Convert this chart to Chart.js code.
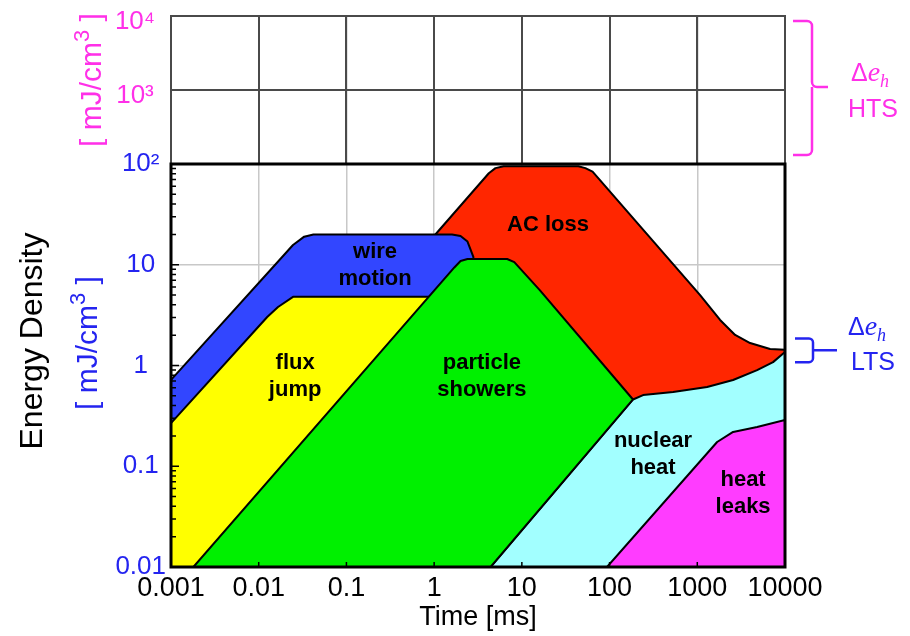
<!DOCTYPE html>
<html>
<head>
<meta charset="utf-8">
<title>Energy Density vs Time</title>
<script src="https://cdn.jsdelivr.net/npm/chart.js@4.4.0/dist/chart.umd.min.js"></script>
<style>
  html, body { margin: 0; padding: 0; background: #fff; }
  #energyChart { display: block; }
</style>
</head>
<body>
<canvas id="energyChart" width="910" height="636"></canvas>
<script>
// Axis ticks
const timeTicks = [0.001, 0.01, 0.1, 1, 10, 100, 1000, 10000];
const timeLabels = ['0.001', '0.01', '0.1', '1', '10', '100', '1000', '10000'];
const ltsTicks = [0.01, 0.1, 1, 10, 100];
const ltsLabels = ['0.01', '0.1', '1', '10', '10²'];
const htsTicks = [1000, 10000];
const htsLabels = ['10³', '10⁴'];

// Outline of each disturbance region: time [ms] / energy density [mJ/cm3]
const acLossT = [0.9, 4.2, 5.0, 6.2, 44, 53, 64, 1077, 1820, 2700, 4000, 6760, 10000, 10000, 185, 3, 0.9];
const acLossE = [17.4, 81, 91, 95, 95, 91, 84, 5.0, 2.83, 2.01, 1.67, 1.46, 1.43, 0.3, 0.3, 3, 17.4];

const wireMotionT = [0.001, 0.001, 0.0246, 0.033, 0.042, 1.6, 2.0, 2.4, 2.8, 2.8, 0.001];
const wireMotionE = [0.01, 0.72, 15.7, 19, 20, 20, 19.3, 17, 12, 0.01, 0.01];

const fluxJumpT = [0.001, 0.001, 0.0125, 0.0166, 0.0246, 1.2, 1.2, 0.001];
const fluxJumpE = [0.01, 0.268, 3.03, 3.81, 4.8, 4.8, 0.01, 0.01];

const nuclearHeatT = [4.4, 185, 241, 530, 1294, 2560, 4810, 7310, 10000, 10000, 4.4];
const nuclearHeatE = [0.01, 0.46, 0.509, 0.546, 0.612, 0.718, 0.90, 1.08, 1.36, 0.01, 0.01];

const showerT = [0.0018, 1.7, 2.0, 2.4, 6.8, 8.2, 16, 185, 4.4, 0.0018];
const showerE = [0.01, 9.4, 10.9, 11.4, 11.4, 10.6, 5.6, 0.46, 0.01, 0.01];

const heatLeakT = [93.5, 1683, 2560, 4810, 10000, 10000, 93.5];
const heatLeakE = [0.01, 0.174, 0.219, 0.245, 0.288, 0.01, 0.01];

// LTS margin range shown by the small bracket
const ltsMargin = [1.08, 1.85];

const PINK = '#ff30e8';
const BLUE = '#2424f0';
const FONT = '"Liberation Sans", Arial, Helvetica, sans-serif';

// back to front
const regions = [
  { name: 'AC loss', t: acLossT, e: acLossE, color: '#ff2600' },
  { name: 'wire motion', t: wireMotionT, e: wireMotionE, color: '#3246ff' },
  { name: 'flux jump', t: fluxJumpT, e: fluxJumpE, color: '#ffff00' },
  { name: 'nuclear heat', t: nuclearHeatT, e: nuclearHeatE, color: '#a2ffff' },
  { name: 'particle showers', t: showerT, e: showerE, color: '#00f000' },
  { name: 'heat leaks', t: heatLeakT, e: heatLeakE, color: '#ff3cff' }
];

// where the region names sit, in data units
const regionLabels = [
  { lines: ['wire', 'motion'], t: 0.212, e: 9.8 },
  { lines: ['flux', 'jump'], t: 0.026, e: 0.77 },
  { lines: ['particle', 'showers'], t: 3.5, e: 0.77 },
  { lines: ['AC loss'], t: 19.9, e: 24.8 },
  { lines: ['nuclear', 'heat'], t: 313, e: 0.132 },
  { lines: ['heat', 'leaks'], t: 3327, e: 0.054 }
];

function drawDeltaE(ctx, cx, cy, color) {
  const parts = [
    { s: 'Δ', font: '25px ' + FONT, dy: 0 },
    { s: 'e', font: 'italic 28px "Liberation Serif", "Times New Roman", serif', dy: 0 },
    { s: 'h', font: 'italic 18px "Liberation Serif", "Times New Roman", serif', dy: 6 }
  ];
  let w = 0;
  parts.forEach(p => { ctx.font = p.font; p.w = ctx.measureText(p.s).width; w += p.w; });
  let px = cx - w / 2;
  ctx.fillStyle = color;
  ctx.textAlign = 'left';
  ctx.textBaseline = 'alphabetic';
  parts.forEach(p => { ctx.font = p.font; ctx.fillText(p.s, px, cy + 9 + p.dy); px += p.w; });
}

// "[ mJ/cm3 ]" written sideways, with a raised 3
function unitTitle(ctx, cx, cy, size, color) {
  const big = size + 'px ' + FONT;
  const small = Math.round(size * 0.72) + 'px ' + FONT;
  const parts = [
    { s: '[ mJ/cm', font: big, dy: 0 },
    { s: '3', font: small, dy: -size * 0.38 },
    { s: ' ]', font: big, dy: 0 }
  ];
  ctx.save();
  ctx.translate(cx, cy);
  ctx.rotate(-Math.PI / 2);
  let w = 0;
  parts.forEach(p => { ctx.font = p.font; p.w = ctx.measureText(p.s).width; w += p.w; });
  let px = -w / 2;
  ctx.fillStyle = color;
  ctx.textAlign = 'left';
  ctx.textBaseline = 'alphabetic';
  parts.forEach(p => { ctx.font = p.font; ctx.fillText(p.s, px, size * 0.36 + p.dy); px += p.w; });
  ctx.restore();
}

function rotatedText(ctx, text, cx, cy, font, color) {
  ctx.save();
  ctx.translate(cx, cy);
  ctx.rotate(-Math.PI / 2);
  ctx.font = font;
  ctx.fillStyle = color;
  ctx.textAlign = 'center';
  ctx.textBaseline = 'middle';
  ctx.fillText(text, 0, 0);
  ctx.restore();
}

const panelDecor = {
  id: 'panelDecor',
  afterDatasetsDraw(chart) {
    const { ctx, scales: { x, y, y2 } } = chart;
    ctx.save();

    // upper panel grid, darker than the lower one
    ctx.strokeStyle = '#4a4a4a';
    ctx.lineWidth = 2;
    ctx.beginPath();
    timeTicks.forEach(v => {
      const px = Math.round(x.getPixelForValue(v));
      ctx.moveTo(px, y2.top);
      ctx.lineTo(px, y2.bottom);
    });
    htsTicks.forEach(v => {
      const py = Math.round(y2.getPixelForValue(v));
      ctx.moveTo(x.left, py);
      ctx.lineTo(x.right, py);
    });
    ctx.stroke();
    ctx.strokeRect(x.left, y2.top, x.right - x.left, y2.bottom - y2.top);

    // inner tick marks of the lower panel
    ctx.strokeStyle = '#000';
    ctx.lineWidth = 1.5;
    ctx.beginPath();
    for (let k = -2; k <= 1; k++) {
      for (let m = 1; m <= 9; m++) {
        const py = y.getPixelForValue(m * Math.pow(10, k));
        ctx.moveTo(x.left, py);
        ctx.lineTo(x.left + (m === 1 ? 8 : 5), py);
      }
    }
    timeTicks.forEach(v => {
      const px = x.getPixelForValue(v);
      ctx.moveTo(px, y.bottom);
      ctx.lineTo(px, y.bottom - 5);
    });
    ctx.stroke();

    // lower panel frame
    ctx.lineWidth = 3;
    ctx.strokeRect(x.left, y.top, x.right - x.left, y.bottom - y.top);

    // region names
    ctx.fillStyle = '#000';
    ctx.font = 'bold 22px ' + FONT;
    ctx.textAlign = 'center';
    ctx.textBaseline = 'middle';
    regionLabels.forEach(l => {
      const px = x.getPixelForValue(l.t);
      const py = y.getPixelForValue(l.e);
      const step = 27;
      const y0 = py - (l.lines.length - 1) * step / 2;
      l.lines.forEach((s, i) => ctx.fillText(s, px, y0 + i * step));
    });

    // axis titles
    rotatedText(ctx, 'Energy Density', 33, 341, '32px ' + FONT, '#000');
    unitTitle(ctx, 86, 343, 30, BLUE);
    unitTitle(ctx, 90, (y2.top + y2.bottom) / 2 - 10, 30, PINK);

    // HTS bracket
    const bx = x.right + 27;
    const top = y2.top + 5, bottom = y2.bottom - 9;
    const mid = y2.getPixelForValue(1000) - 3;
    ctx.strokeStyle = PINK;
    ctx.lineWidth = 2.5;
    ctx.beginPath();
    ctx.moveTo(x.right + 8, top);
    ctx.arcTo(bx, top, bx, mid, 5);
    ctx.arcTo(bx, mid, bx + 16, mid, 5);
    ctx.lineTo(bx + 16, mid);
    ctx.moveTo(bx, mid);
    ctx.arcTo(bx, bottom, x.right + 8, bottom, 5);
    ctx.lineTo(x.right + 8, bottom);
    ctx.stroke();
    drawDeltaE(ctx, 870, 72, PINK);
    ctx.font = '25px ' + FONT;
    ctx.fillStyle = PINK;
    ctx.textAlign = 'center';
    ctx.textBaseline = 'middle';
    ctx.fillText('HTS', 873, 110);

    // LTS bracket
    const lt = y.getPixelForValue(ltsMargin[1]);
    const lb = y.getPixelForValue(ltsMargin[0]);
    const lm = (lt + lb) / 2;
    const lx = x.right + 28;
    ctx.strokeStyle = BLUE;
    ctx.beginPath();
    ctx.moveTo(x.right + 10, lt);
    ctx.arcTo(lx, lt, lx, lm, 4);
    ctx.lineTo(lx, lb - 4);
    ctx.arcTo(lx, lb, x.right + 10, lb, 4);
    ctx.lineTo(x.right + 10, lb);
    ctx.moveTo(lx, lm);
    ctx.lineTo(lx + 24, lm);
    ctx.stroke();
    drawDeltaE(ctx, 867, 326, BLUE);
    ctx.font = '25px ' + FONT;
    ctx.fillStyle = BLUE;
    ctx.textAlign = 'center';
    ctx.textBaseline = 'middle';
    ctx.fillText('LTS', 873, 363);

    ctx.restore();
  }
};

// fixed axis width, no extra room reserved for the end labels
function fitLeftAxis(s) {
  s.width = 171;
  s.paddingTop = 0;
  s.paddingBottom = 0;
}

Chart.defaults.font.family = FONT;

new Chart(document.getElementById('energyChart').getContext('2d'), {
  type: 'scatter',
  data: {
    datasets: regions.map((r, i) => ({
      label: r.name,
      data: r.t.map((t, k) => ({ x: t, y: r.e[k] })),
      showLine: true,
      fill: 'shape',
      backgroundColor: r.color,
      borderColor: '#000',
      borderWidth: 2,
      borderJoinStyle: 'round',
      pointRadius: 0,
      tension: 0,
      order: regions.length - i,
      yAxisID: 'y'
    }))
  },
  options: {
    responsive: false,
    devicePixelRatio: 1,
    animation: false,
    events: [],
    layout: { padding: { top: 16, right: 125, bottom: 0, left: 0 } },
    plugins: {
      legend: { display: false },
      tooltip: { enabled: false }
    },
    scales: {
      x: {
        type: 'logarithmic',
        min: 0.001,
        max: 10000,
        afterBuildTicks: s => { s.ticks = timeTicks.map(v => ({ value: v })); },
        afterFit: s => { s.height = 69; },
        ticks: {
          autoSkip: false,
          maxRotation: 0,
          padding: 5,
          color: '#000',
          font: { size: 27 },
          callback: (v, i) => timeLabels[i]
        },
        grid: { color: '#c8c8c8', lineWidth: 1.5, drawTicks: false },
        border: { display: false },
        title: {
          display: true,
          text: 'Time [ms]',
          color: '#000',
          font: { size: 27 },
          padding: { top: 0, bottom: 2 }
        }
      },
      y: {
        type: 'logarithmic',
        position: 'left',
        stack: 'energy',
        stackWeight: 403,
        min: 0.01,
        max: 100,
        afterBuildTicks: s => { s.ticks = ltsTicks.map(v => ({ value: v })); },
        afterFit: fitLeftAxis,
        ticks: {
          autoSkip: false,
          crossAlign: 'center',
          padding: 5,
          color: BLUE,
          font: { size: 26 },
          callback: (v, i) => ltsLabels[i]
        },
        grid: { color: '#c8c8c8', lineWidth: 1.5, drawTicks: false },
        border: { display: false }
      },
      y2: {
        type: 'logarithmic',
        position: 'left',
        stack: 'energy',
        stackWeight: 148,
        min: 100,
        max: 10000,
        afterBuildTicks: s => { s.ticks = htsTicks.map(v => ({ value: v })); },
        afterFit: fitLeftAxis,
        ticks: {
          autoSkip: false,
          crossAlign: 'center',
          padding: 16,
          labelOffset: 6,
          color: PINK,
          font: { size: 26 },
          callback: (v, i) => htsLabels[i]
        },
        grid: { display: false, drawTicks: false },
        border: { display: false }
      }
    }
  },
  plugins: [panelDecor]
});
</script>
</body>
</html>
